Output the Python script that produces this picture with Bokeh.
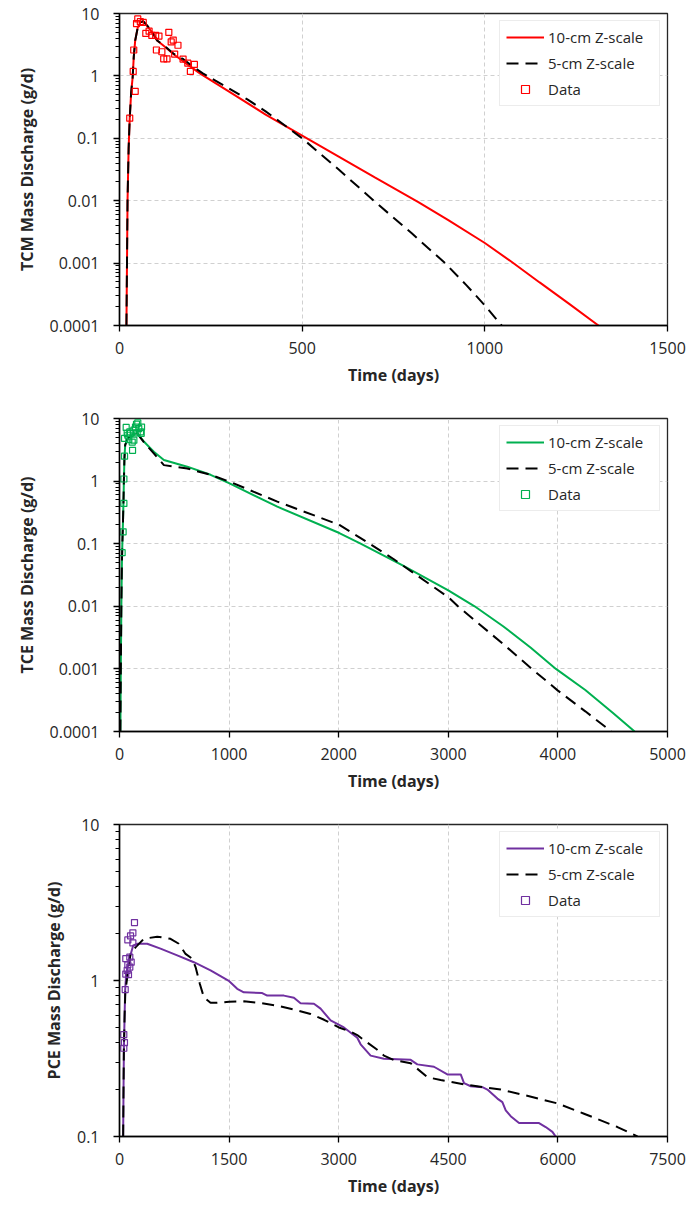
from bokeh.plotting import figure
from bokeh.models import (Range1d, FixedTicker, CustomJSTickFormatter, Legend,
                          LegendItem)
from bokeh.layouts import column
from bokeh.embed import file_html
from bokeh.resources import INLINE

FONT = "Open Sans"
TXT = "#262626"

# ---------------- TCM ----------------
tcm_days_10 = [19, 20.5, 22, 25, 28, 32, 36, 39, 43, 50, 57, 65, 76, 90, 103, 125, 149, 175,
               200, 222, 300, 400, 500, 600, 700, 818, 900, 1000, 1073, 1150, 1230, 1311]
tcm_10 = [1e-4, 1e-3, 1e-2, 0.07, 0.21, 0.55, 0.95, 2.0, 3.7, 6.0, 7.2, 7.5, 6.3, 4.9, 3.7,
          2.9, 2.2, 1.7, 1.33, 1.08, 0.56, 0.24, 0.11, 0.051, 0.0234, 0.0095, 0.0049, 0.0021,
          0.00105, 0.00049, 0.000224, 0.0001]
tcm_days_5 = [19, 20.5, 22, 25, 28, 32, 36, 39, 43, 50, 57, 65, 76, 90, 103, 125, 149, 175,
              200, 228, 300, 350, 400, 450, 500, 600, 696, 800, 891, 950, 1000, 1046]
tcm_5 = [1e-4, 1e-3, 1e-2, 0.07, 0.21, 0.55, 0.95, 2.0, 3.7, 6.0, 7.2, 7.5, 6.4, 5.0, 3.7,
         2.95, 2.25, 1.85, 1.42, 1.1, 0.63, 0.42, 0.27, 0.165, 0.1, 0.0316, 0.01, 0.003,
         0.001, 0.00044, 0.00021, 0.0001]
tcm_data_days = [28, 37.5, 43, 39, 46.6, 50, 57, 65, 72, 81, 88.5, 99, 108, 101, 116, 121,
                 130, 135, 141.5, 147, 160, 151, 174, 187, 205, 194]
tcm_data = [0.21, 1.18, 0.565, 2.6, 6.9, 8.2, 7.4, 7.2, 4.8, 5.2, 4.45, 4.45, 4.35, 2.6,
            2.44, 1.88, 1.88, 5.0, 3.5, 3.75, 3.1, 2.24, 1.86, 1.6, 1.53, 1.18]
tcm_xticks = [0, 500, 1000, 1500]

# ---------------- TCE ----------------
tce_days_10 = [8, 12, 17, 22, 26, 31, 36, 40, 45, 52, 80, 120, 161, 222, 313, 405, 618, 831,
               1004, 1440, 2006, 2200, 2583, 3000, 3240, 3500, 3750, 3982, 4250, 4500, 4700]
tce_10 = [1e-4, 1e-3, 0.01, 0.05, 0.1, 0.2, 0.45, 1.0, 2.3, 3.8, 5.0, 5.5, 5.8, 4.3, 2.95,
          2.17, 1.7, 1.26, 0.92, 0.39, 0.148, 0.10, 0.045, 0.018, 0.01, 0.0048, 0.0022,
          0.001, 0.00046, 0.0002, 0.0001]
tce_days_5 = [8, 12, 17, 22, 26, 31, 36, 40, 45, 52, 80, 120, 161, 222, 313, 405, 618, 831,
              1004, 1440, 2006, 2200, 2500, 2583, 3000, 3088, 3500, 3763, 4000, 4250, 4488]
tce_5 = [1e-4, 1e-3, 0.01, 0.05, 0.1, 0.2, 0.45, 1.0, 2.3, 3.8, 5.0, 5.5, 5.8, 4.2, 2.77,
         1.8, 1.59, 1.26, 0.98, 0.47, 0.2, 0.123, 0.057, 0.045, 0.014, 0.01, 0.0025, 0.001,
         0.00045, 0.00021, 0.0001]
tce_data_days = [24, 33, 40, 40, 46, 46, 61, 70, 76, 85, 94, 100, 116, 119, 131, 131, 146,
                 155, 161, 167, 176, 192, 198, 201]
tce_data = [0.072, 0.155, 0.44, 1.08, 2.5, 4.8, 7.2, 5.8, 5.4, 4.6, 6.1, 5.8, 4.2, 3.1, 4.5,
            6.5, 7.3, 8.1, 5.9, 8.5, 6.9, 6.1, 5.8, 7.3]
tce_xticks = [0, 1000, 2000, 3000, 4000, 5000]

# ---------------- PCE ----------------
pce_days_10 = [50, 55, 60, 70, 78, 90, 110, 140, 188, 250, 379, 561, 790, 1018, 1246, 1502,
               1611, 1702, 1953, 2022, 2250, 2387, 2478, 2661, 2752, 2889, 3071, 3254, 3300,
               3437, 3619, 3985, 4076, 4304, 4487, 4670, 4715, 4807, 4967, 5035, 5172, 5240,
               5286, 5354, 5468, 5742, 5833, 5925, 5970]
pce_10 = [0.1, 0.2, 0.36, 0.6, 0.875, 1.08, 1.2, 1.4, 1.68, 1.72, 1.72, 1.6, 1.45, 1.31, 1.16,
          0.99, 0.885, 0.84, 0.83, 0.80, 0.80, 0.775, 0.715, 0.71, 0.66, 0.555, 0.50, 0.43,
          0.39, 0.33, 0.315, 0.31, 0.29, 0.28, 0.25, 0.25, 0.22, 0.21, 0.207, 0.2, 0.175,
          0.166, 0.147, 0.135, 0.122, 0.122, 0.115, 0.107, 0.1]
pce_days_5 = [50, 55, 60, 70, 80, 100, 151, 219, 333, 516, 698, 812, 904, 995, 1041, 1100,
              1155, 1246, 1338, 1500, 1702, 1900, 2159, 2400, 2615, 2800, 3003, 3163, 3254,
              3391, 3528, 3619, 3750, 3985, 4213, 4395, 4760, 5217, 5673, 5993, 6358, 6815,
              7089]
pce_5 = [0.1, 0.2, 0.36, 0.6, 0.85, 1.0, 1.48, 1.63, 1.85, 1.91, 1.85, 1.72, 1.48, 1.38, 1.22,
         0.95, 0.78, 0.72, 0.72, 0.73, 0.735, 0.72, 0.69, 0.65, 0.61, 0.56, 0.50, 0.47,
         0.447, 0.40, 0.36, 0.33, 0.31, 0.295, 0.24, 0.23, 0.214, 0.2, 0.178, 0.163, 0.14,
         0.115, 0.1]
pce_data_days = [59, 68, 59, 78, 86, 105, 123, 86, 141, 114, 141, 160, 114, 151, 183, 183, 205]
pce_data = [0.368, 0.40, 0.45, 0.875, 1.1, 1.16, 1.09, 1.38, 1.41, 1.26, 1.22, 1.31, 1.82,
            1.93, 2.02, 1.74, 2.35]
pce_xticks = [0, 1500, 3000, 4500, 6000, 7500]

y_major_wide = [0.0001, 0.001, 0.01, 0.1, 1, 10]
y_major_narrow = [0.1, 1, 10]
mantissas = [2, 3, 4, 5, 6, 7, 8, 9]


def minor_for(major):
    out = []
    for m in major[:-1]:
        out += [m * k for k in mantissas]
    return out


labels = ["10-cm Z-scale", "5-cm Z-scale", "Data"]


def make_panel(days10, v10, days5, v5, ddays, dvals, color, xticks, ymajor, ylabel,
               height, bottom):
    p = figure(width=689, height=height, y_axis_type="log",
               x_range=Range1d(xticks[0], xticks[-1]),
               y_range=Range1d(ymajor[0], ymajor[-1]),
               output_backend="svg", toolbar_location=None,
               min_border_left=119, min_border_right=22, min_border_top=13,
               min_border_bottom=bottom)
    p.background_fill_color = "white"
    p.border_fill_color = "white"
    p.outline_line_color = "#262626"
    p.outline_line_width = 1.3

    r10 = p.line(days10, v10, line_color=color, line_width=2)
    r5 = p.line(days5, v5, line_color="black", line_width=2, line_dash="12 7")
    rd = p.scatter(ddays, dvals, marker="square", size=6, line_color=color,
                   fill_color=None, line_width=1.2)

    p.xaxis.ticker = FixedTicker(ticks=xticks, minor_ticks=[])
    p.yaxis.ticker = FixedTicker(ticks=ymajor, minor_ticks=minor_for(ymajor))
    p.yaxis.formatter = CustomJSTickFormatter(code="return tick.toString();")

    for ax in (p.xaxis[0], p.yaxis[0]):
        ax.axis_line_color = "black"
        ax.axis_line_width = 1.5
        ax.major_tick_line_color = "black"
        ax.minor_tick_line_color = "black"
        ax.major_tick_line_width = 1.3
        ax.minor_tick_line_width = 1.1
        ax.major_tick_in = 0
        ax.minor_tick_in = 0
        ax.major_tick_out = 6
        ax.major_label_text_font = FONT
        ax.major_label_text_font_size = "16px"
        ax.major_label_text_color = TXT
        ax.axis_label_text_font = FONT
        ax.axis_label_text_font_size = "16px"
        ax.axis_label_text_font_style = "bold"
        ax.axis_label_text_color = TXT
    p.xaxis.minor_tick_out = 0
    p.yaxis.minor_tick_out = 4
    p.xaxis.major_label_standoff = 10
    p.yaxis.major_label_standoff = 14
    p.xaxis.axis_label = "Time (days)"
    p.yaxis.axis_label = ylabel
    p.xaxis.axis_label_standoff = 7
    p.yaxis.axis_label_standoff = 9

    for g in (p.xgrid[0], p.ygrid[0]):
        g.grid_line_color = "#d0d0d0"
        g.grid_line_dash = "4 3"
        g.grid_line_width = 1

    legend = Legend(items=[LegendItem(label=labels[0], renderers=[r10]),
                           LegendItem(label=labels[1], renderers=[r5]),
                           LegendItem(label=labels[2], renderers=[rd])],
                    location="top_right", margin=7, padding=6, spacing=6,
                    glyph_width=38, glyph_height=20, label_height=20,
                    label_standoff=4, label_width=105,
                    border_line_color="#d9d9d9", border_line_width=1.3,
                    background_fill_color="white", background_fill_alpha=1,
                    label_text_font=FONT, label_text_font_size="15px",
                    label_text_color=TXT)
    p.add_layout(legend)
    return p


p1 = make_panel(tcm_days_10, tcm_10, tcm_days_5, tcm_5, tcm_data_days, tcm_data,
                "#ff0000", tcm_xticks, y_major_wide, "TCM Mass Discharge (g/d)", 405, 80)
p2 = make_panel(tce_days_10, tce_10, tce_days_5, tce_5, tce_data_days, tce_data,
                "#00b050", tce_xticks, y_major_wide, "TCE Mass Discharge (g/d)", 406, 80)
p3 = make_panel(pce_days_10, pce_10, pce_days_5, pce_5, pce_data_days, pce_data,
                "#7030a0", pce_xticks, y_major_narrow, "PCE Mass Discharge (g/d)", 395, 70)

layout = column(p1, p2, p3, spacing=0)
open("out.html", "w").write(file_html(layout, INLINE))
